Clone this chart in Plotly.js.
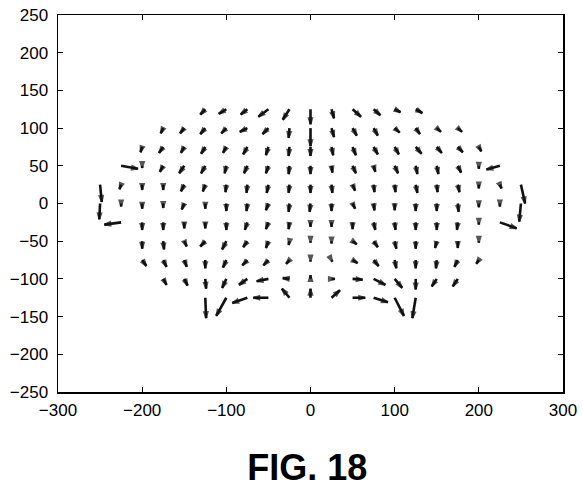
<!DOCTYPE html>
<html><head><meta charset="utf-8">
<script src="https://cdn.plot.ly/plotly-3.0.1.min.js"></script>
<style>html,body{margin:0;padding:0;background:#fff}</style>
</head><body><div id="chart" style="width:583px;height:489px"></div>
<script>
// grid rows (y of arrow tails) and first column x of each row; columns every 25 units
const rowY = [125, 100, 75, 50, 25, 0, -25, -50, -75, -100, -125];
const rowStartX = [-125, -175, -200, -225, -250, -250, -225, -200, -200, -175, -125];
const colStep = 25;

// vector components (dx, dy) per row
const u125 = [-6,-9,-8,-12,-8,0,3,10,8,7,8];
const v125 = [-7,-6,-7,-10,-14,-20,-12,-10,-8,-4,-5];
const u100 = [-3,-5,-6,-6,-9,-7,-1,0,3,5,5,6,5,5,5];
const v100 = [-7,-7,-8,-7,-5,-8,-13,-24,-12,-10,-10,-6,-8,-5,-5];
const u75 = [-2,-5,-4,-5,-4,-5,-3,-1,0,2,4,5,5,7,6,6,3];
const v75 = [-7,-8,-8,-9,-8,-10,-11,-12,-12,-11,-11,-10,-10,-9,-8,-7,-6];
const u50 = [20,0,-4,-6,-5,-2,-4,-3,-1,0,1,4,2,4,2,2,4,0,-16];
const v50 = [-4,-3,-8,-10,-10,-10,-10,-10,-11,-11,-9,-10,-8,-10,-11,-11,-9,-4,-5];
const u25 = [2,-2,0,0,-4,-3,-1,-1,-2,-1,0,1,3,1,1,2,1,2,0,2,5];
const v25 = [-23,-6,-7,-7,-9,-9,-10,-11,-11,-11,-11,-11,-8,-10,-10,-11,-10,-10,-5,-5,-25];
const u0 = [-1,0,0,0,-3,0,0,-1,-3,-1,-1,0,3,1,0,0,0,1,0,0,-2];
const v0 = [-21,-4,-7,-6,-8,-7,-10,-10,-9,-11,-11,-10,-7,-9,-9,-10,-10,-11,-5,-4,-24];
const um25 = [-20,0,0,0,0,0,-3,-3,-1,0,0,0,2,1,0,0,-1,0,20];
const vm25 = [-3,-10,-10,-8,-8,-10,-10,-9,-9,-6,-6,-9,-10,-10,-10,-10,-10,-3,-8];
const um50 = [0,1,3,-6,-5,-5,-3,-1,0,0,5,5,2,0,-2,0,0];
const vm50 = [-10,-11,-7,-7,-11,-8,-9,-5,-2,-3,-4,-8,-10,-10,-9,-9,-2];
const um75 = [5,4,3,0,-4,-6,-6,-4,0,1,6,6,2,0,-1,-4,-3];
const vm75 = [-8,-9,-9,-11,-10,-7,-7,-5,-2,-2,-4,-8,-11,-11,-11,-9,-5];
const um100 = [4,4,1,-5,-10,-14,-8,0,4,12,14,9,0,-6,-6];
const vm100 = [-8,-9,-13,-12,-8,-3,1,5,0,-1,-8,-12,-14,-10,-10];
const um125 = [1,-12,-18,-18,-9,0,10,15,17,11,-4];
const vm125 = [-27,-24,-7,0,12,12,10,0,-6,-24,-27];

const xTicks = [-300,-200,-100,0,100,200,300];
const yTicks = [-250,-200,-150,-100,-50,0,50,100,150,200,250];
const figTitle = 'FIG. 18';

const U = [u125,u100,u75,u50,u25,u0,um25,um50,um75,um100,um125];
const V = [v125,v100,v75,v50,v25,v0,vm25,vm50,vm75,vm100,vm125];

const xs = [], ys = [], sizes = [];
rowY.forEach((y, r) => {
  U[r].forEach((u, i) => {
    const x = rowStartX[r] + colStep * i;
    const v = V[r][i];
    xs.push(x, x + u, null);
    ys.push(y, y + v, null);
    sizes.push(0, 6.5, 0);
  });
});

const quiver = {
  type: 'scatter', mode: 'lines+markers', x: xs, y: ys,
  connectgaps: false, hoverinfo: 'skip',
  line: {color: '#111', width: 2.6, backoff: 0},
  marker: {symbol: 'arrow', angleref: 'previous', size: sizes, color: '#111', line: {width: 1.6, color: '#111'}}
};

const axisFont = {family: 'Liberation Sans, Arial, sans-serif', size: 17, color: '#000'};
const layout = {
  width: 583, height: 489,
  margin: {l: 58, r: 20, t: 15, b: 97},
  paper_bgcolor: '#fff', plot_bgcolor: '#fff',
  showlegend: false,
  title: {text: '<b>' + figTitle + '</b>', font: {family: 'Liberation Sans, Arial, sans-serif', size: 36, color: '#000'},
          x: 0.527, xanchor: 'center', xref: 'container', y: 0.045, yanchor: 'middle', yref: 'container'},
  xaxis: {range: [-300, 300], tickvals: xTicks, ticks: 'inside', ticklen: 5, tickwidth: 1, tickcolor: '#000',
          mirror: 'ticks', showline: true, linecolor: '#000', linewidth: 1.5, showgrid: false, zeroline: false,
          tickfont: axisFont, ticklabelstandoff: 2},
  yaxis: {range: [-250, 250], tickvals: yTicks, ticks: 'inside', ticklen: 5, tickwidth: 1, tickcolor: '#000',
          mirror: 'ticks', showline: true, linecolor: '#000', linewidth: 1.5, showgrid: false, zeroline: false,
          tickfont: axisFont, ticklabelstandoff: 5}
};
Plotly.newPlot('chart', [quiver], layout, {staticPlot: true});
</script></body></html>
